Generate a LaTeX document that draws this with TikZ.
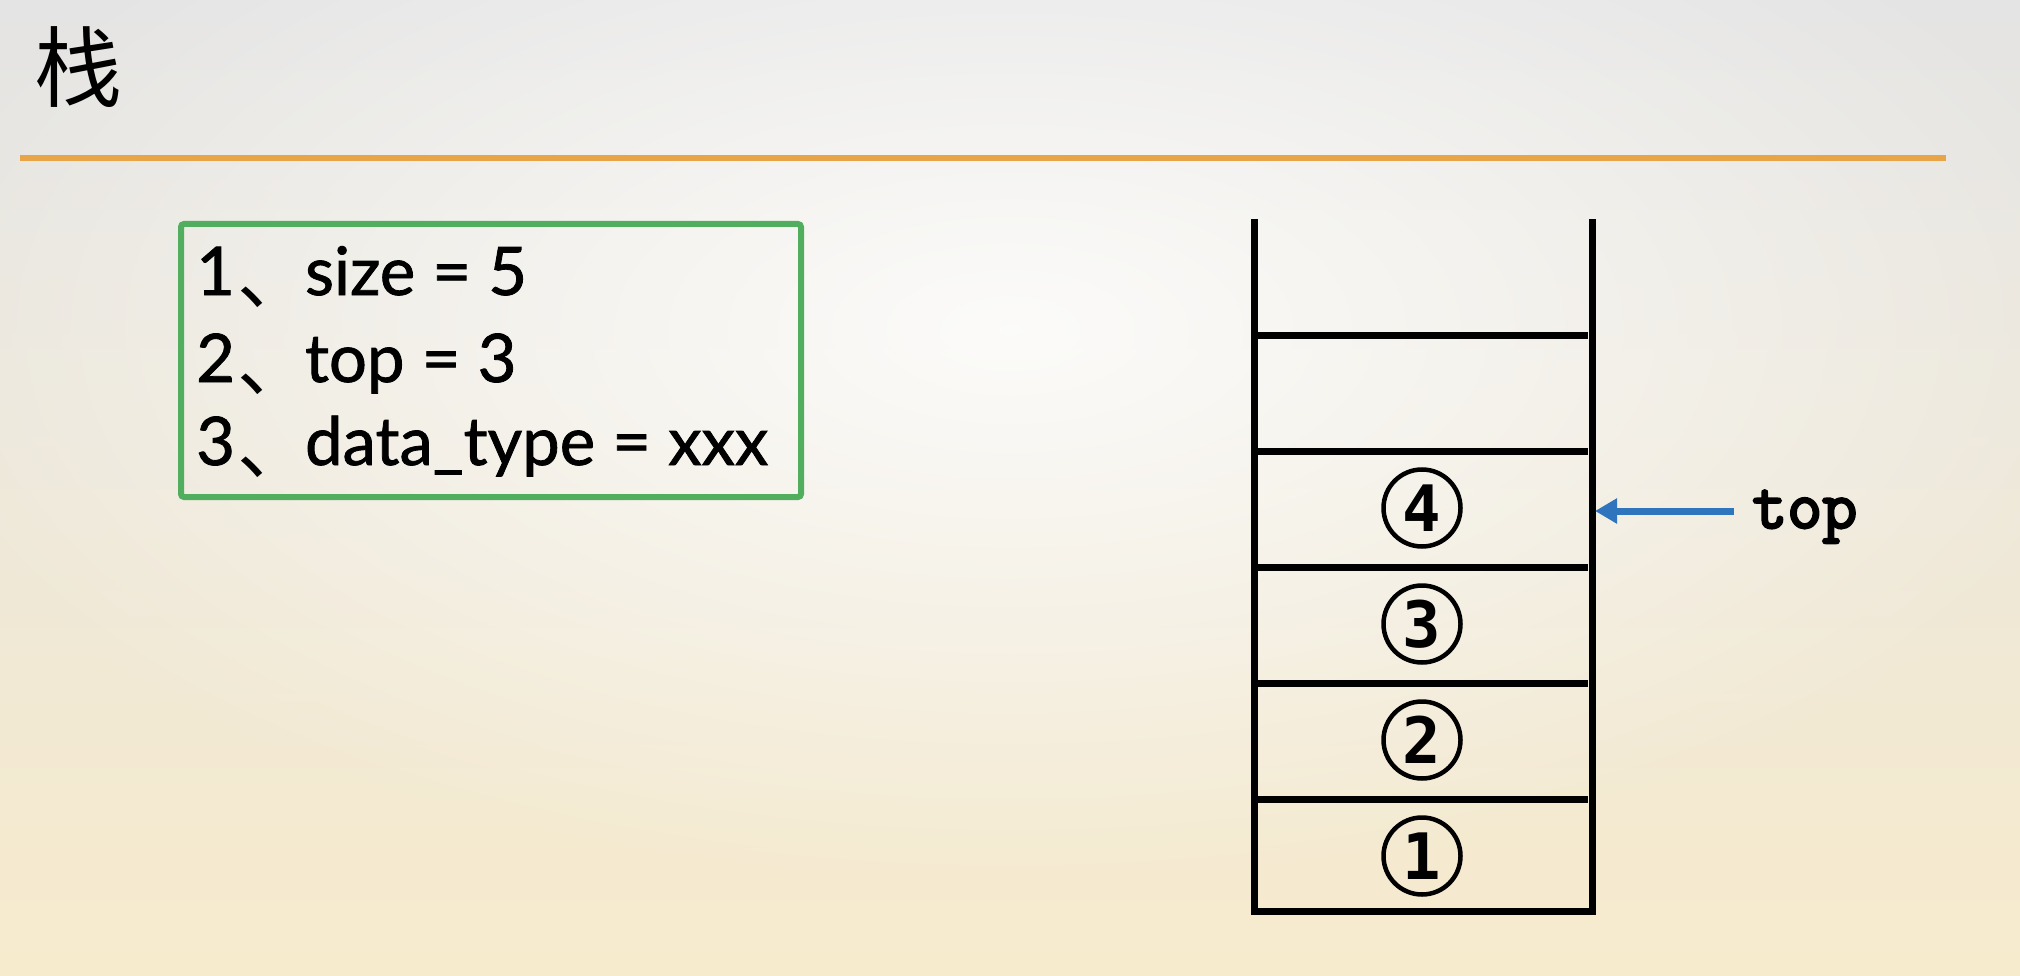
\documentclass[tikz,border=0pt]{standalone}
\usepackage{fontspec}
\setmainfont{Lato}
\newfontfamily\itemfont[FakeBold=1.2]{Lato}
\newfontfamily\cjk{Noto Sans CJK SC}
\newfontfamily\digitfont{DejaVu Sans Mono}
\newfontfamily\topfont[FakeBold=3.5]{Latin Modern Mono}
\usetikzlibrary{arrows.meta,fadings}
\definecolor{bgtop}{HTML}{E4E4E4}
\definecolor{bgmid}{HTML}{EFEDE4}
\definecolor{bgbot}{HTML}{F7EBCD}
\definecolor{rulecol}{HTML}{E8A548}
\definecolor{boxgreen}{HTML}{50AE5E}
\definecolor{arrowblue}{HTML}{2F75BE}
\tikzfading[name=glow, inner color=transparent!0, outer color=transparent!100]
\tikzset{
  wall/.style={line width=7pt, black},
  shelf/.style={line width=7pt, black},
  itemtext/.style={anchor=base west, inner sep=0pt, font=\itemfont\fontsize{67}{67}\selectfont},
  cnum/.style={circle, draw=black, line width=4.5pt, minimum size=77pt, inner sep=0pt,
               font=\digitfont\bfseries\fontsize{64}{64}\selectfont},
  ptr/.style={-{Triangle[length=22pt,width=24pt]}, line width=7pt, arrowblue}
}
\newcommand{\dun}{\makebox[70pt][l]{\hspace{2pt}\raisebox{-8pt}{\cjk\fontsize{74}{74}\selectfont 、}}}
\begin{document}
\begin{tikzpicture}[x=1pt,y=-1pt]
\useasboundingbox (0,0) rectangle (2020,976);
\shade[top color=bgtop, middle color=bgmid, bottom color=bgbot] (0,0) rectangle (2020,976);
\fill[white, path fading=glow, fill opacity=0.85] (1010,330) ellipse [x radius=1150pt, y radius=560pt];

% title and rule
\node[font=\cjk\fontsize{88}{88}\selectfont, inner sep=0pt] (title) at (78,67) {栈};
\draw[rulecol, line width=6pt] (20,158) -- (1946,158);

% green box
\node[draw=boxgreen, line width=6pt, rounded corners=3pt, minimum width=620pt, minimum height=273pt,
      anchor=north west, inner sep=0pt] (box) at (178,221) {};
\node[itemtext] (l1) at (196,295) {1\dun size = 5};
\node[itemtext] (l2) at (196,382) {2\dun top = 3};
\node[itemtext] (l3) at (196,465) {3\dun data\_type = xxx};

% stack
\draw[wall] (1254.5,219) -- (1254.5,912);
\draw[wall] (1592,219) -- (1592,912);
\draw[wall] (1251,911.5) -- (1596,911.5);
\foreach \yy in {335,451,567,683,799} {
  \draw[shelf] (1258,\yy) -- (1588,\yy);
}
\node[cnum] (c4) at (1422,508) {4};
\node[cnum] (c3) at (1422,624) {3};
\node[cnum] (c2) at (1422,740) {2};
\node[cnum] (c1) at (1422,856) {1};

% top pointer
\coordinate (r4) at (1595,511);
\node[anchor=base west, inner sep=0pt, font=\topfont\fontsize{68}{68}\selectfont] (toplabel) at (1752,528) {top};
\coordinate (astart) at ([xshift=-18pt]toplabel.west);
\draw[ptr] (astart |- r4) -- (r4);
\end{tikzpicture}
\end{document}
